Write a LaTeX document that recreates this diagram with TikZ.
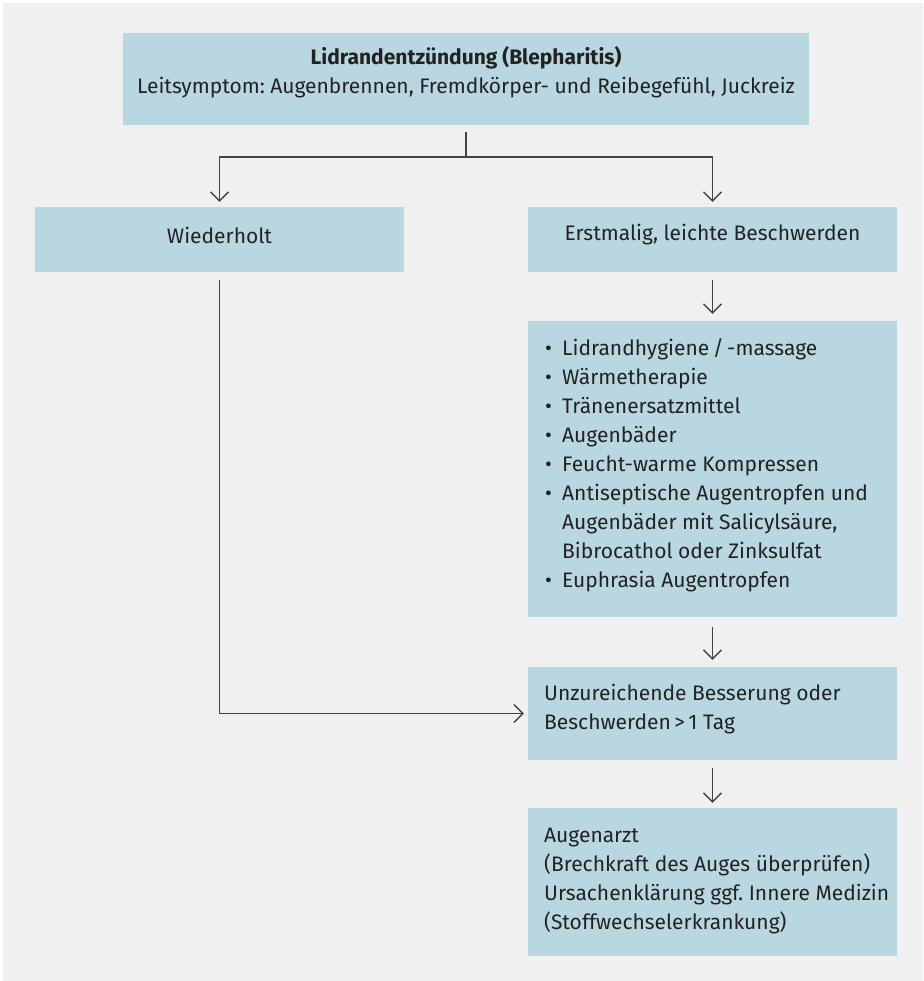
\documentclass[tikz,border=0pt]{standalone}
\usepackage{fontspec}
\setmainfont{Fira Sans}
\usetikzlibrary{arrows.meta}
\definecolor{bg}{HTML}{F0F0F0}
\definecolor{boxc}{HTML}{B9D7E1}
\definecolor{txt}{HTML}{222222}
\definecolor{linec}{HTML}{444444}
\frenchspacing
\tikzset{
  box/.style={fill=boxc, draw=none, inner sep=0pt, outer sep=0pt},
  lbl/.style={text=txt, font=\fontsize{21}{29}\selectfont, inner sep=0pt},
  conn/.style={draw=linec, line width=1.6pt, -{Straight Barb[length=9pt,width=18pt,line width=1.3pt]}},
  plain/.style={draw=linec, line width=1.6pt}
}
\begin{document}
\begin{tikzpicture}[x=1pt,y=-1pt]
\useasboundingbox (0,0) rectangle (923,981);
\fill[white] (0,0) rectangle (923,981);
\fill[bg] (3,3) rectangle (923,981);
% boxes
\path[box] (123,33) rectangle (809,125);
\node (top) [minimum width=686pt, minimum height=92pt, inner sep=0pt] at (466,79) {};
\path[box] (35,207) rectangle (404,272);
\node (wied) [minimum width=369pt, minimum height=65pt, inner sep=0pt] at (219.5,239.5) {};
\path[box] (528,207) rectangle (897,272);
\node (erst) [minimum width=369pt, minimum height=65pt, inner sep=0pt] at (712.5,239.5) {};
\path[box] (528,321) rectangle (897,617);
\node (list) [minimum width=369pt, minimum height=296pt, inner sep=0pt] at (712.5,469) {};
\path[box] (528,667) rectangle (897,760);
\node (unz) [minimum width=369pt, minimum height=93pt, inner sep=0pt] at (712.5,713.5) {};
\path[box] (528,808) rectangle (897,956);
\node (arzt) [minimum width=369pt, minimum height=148pt, inner sep=0pt] at (712.5,882) {};
% texts
\node[lbl, font=\fontsize{21}{29}\selectfont\bfseries] (t1) at (466,58) {Lidrandentzündung (Blepharitis)};
\node[lbl] (t2) at (466,88) {Leitsymptom: Augenbrennen, Fremdkörper- und Reibegefühl, Juckreiz};
\node[lbl] (tw) at (219.5,235) {Wiederholt};
\node[lbl] (te) at (712.5,235) {Erstmalig, leichte Beschwerden};
\node[lbl, anchor=north west, align=left] (tl) at (545,338) {%
\makebox[17pt][l]{•}Lidrandhygiene\,/\,-massage\\
\makebox[17pt][l]{•}Wärmetherapie\\
\makebox[17pt][l]{•}Tränenersatzmittel\\
\makebox[17pt][l]{•}Augenbäder\\
\makebox[17pt][l]{•}Feucht-warme Kompressen\\
\makebox[17pt][l]{•}Antiseptische Augentropfen und\\
\hspace*{17pt}Augenbäder mit Salicylsäure,\\
\hspace*{17pt}Bibrocathol oder Zinksulfat\\
\makebox[17pt][l]{•}Euphrasia Augentropfen};
\node[lbl, anchor=north west, align=left] (tu) at (544,684) {Unzureichende Besserung oder\\Beschwerden\,>\,1 Tag};
\node[lbl, anchor=north west, align=left] (ta) at (544,828) {Augenarzt\\(Brechkraft des Auges überprüfen)\\Ursachenklärung ggf. Innere Medizin\\(Stoffwechselerkrankung)};
% connectors
\coordinate (s0) at (466,132);
\coordinate (s1) at (466,157);
\draw[plain] (s0) -- (s1);
\draw[conn] (s1) -| ([yshift=5pt]wied.north);
\draw[conn] (s1) -| ([yshift=5pt]erst.north);
\coordinate (w0) at (219.5,280);
\draw[conn] (w0) |- ([xshift=-4pt]unz.west);
\draw[conn] ([yshift=-8pt]erst.south) -- ([yshift=7pt]list.north);
\draw[conn] ([yshift=-10pt]list.south) -- ([yshift=7pt]unz.north);
\draw[conn] ([yshift=-8pt]unz.south) -- ([yshift=5pt]arzt.north);
\end{tikzpicture}
\end{document}
